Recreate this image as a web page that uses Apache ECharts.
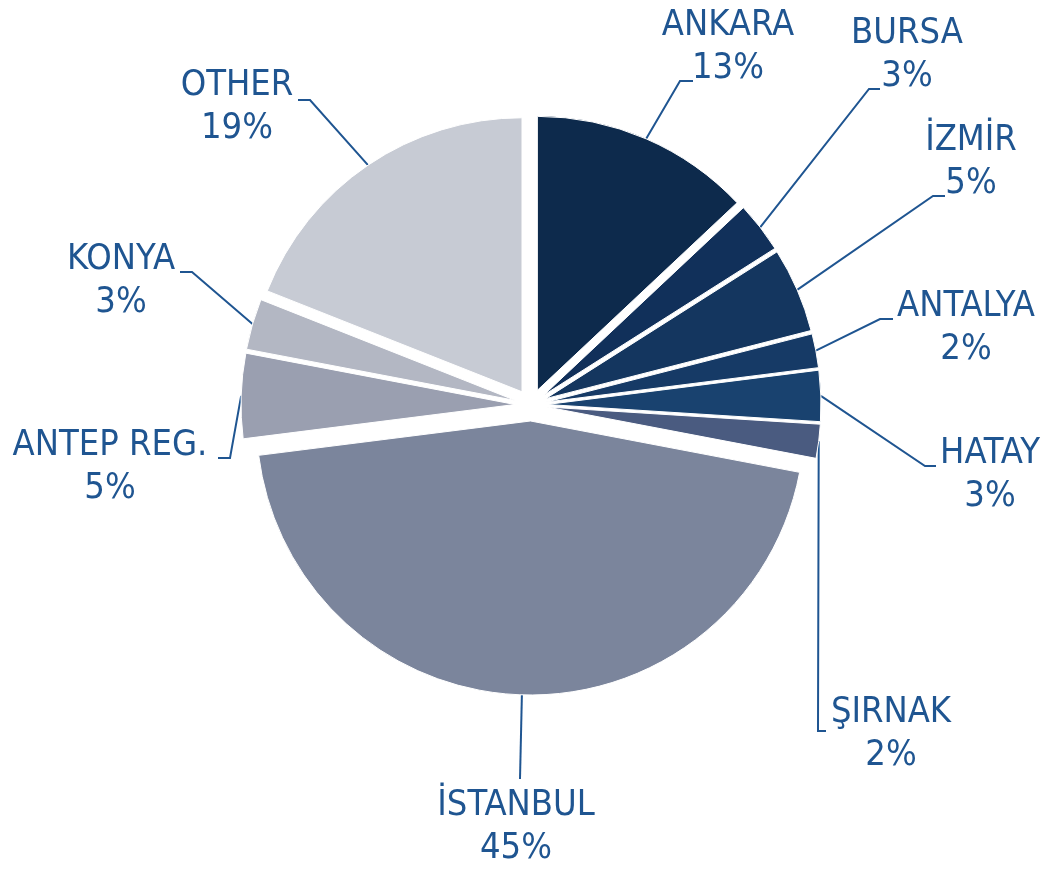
<!DOCTYPE html>
<html>
<head>
<meta charset="utf-8">
<script src="https://cdn.jsdelivr.net/npm/echarts@6/dist/echarts.min.js"></script>
<style>
  html, body { margin: 0; padding: 0; background: #fff; }
  #chart { width: 1042px; height: 869px; }
</style>
</head>
<body>
<div id="chart"></div>
<script>
const cities = ['ANKARA', 'BURSA', 'İZMİR', 'ANTALYA', 'HATAY', 'ŞIRNAK', 'İSTANBUL', 'ANTEP REG.', 'KONYA', 'OTHER'];
const shares = [13, 3, 5, 2, 3, 2, 45, 5, 3, 19];
const sliceColors = ['#0d2a4c', '#11305a', '#14365f', '#163a66', '#19426f', '#4a5b80', '#7b859c', '#9a9fb0', '#b3b7c3', '#c7cbd4'];

const pieCenter = [531, 405];
const pieRadius = 274;
const explode = 16;
const textColor = '#1f5591';

// where each label sits (block centre) and where its leader line ends
const labelSpots = [
  { tx: 728, ty: 47, ex: 693, ey: 81, elbow: 13 },
  { tx: 907, ty: 55, ex: 880, ey: 89, elbow: 11 },
  { tx: 971, ty: 162, ex: 945, ey: 196, elbow: 12 },
  { tx: 966, ty: 328, ex: 893, ey: 319, elbow: 13 },
  { tx: 990, ty: 475, ex: 936, ey: 466, elbow: 11 },
  { tx: 891, ty: 734, ex: 826, ey: 731, elbow: 8 },
  { tx: 516, ty: 827, ex: 520, ey: 779, elbow: 0 },
  { tx: 110, ty: 467, ex: 218, ey: 458, elbow: -12 },
  { tx: 121, ty: 281, ex: 180, ey: 272, elbow: -12 },
  { tx: 237, ty: 107, ex: 298, ey: 100, elbow: -12 }
];

const chart = echarts.init(document.getElementById('chart'));

const common = {
  type: 'pie',
  center: pieCenter,
  radius: pieRadius,
  startAngle: 90,
  clockwise: true,
  avoidLabelOverlap: false,
  emphasis: { disabled: true }
};

chart.setOption({
  animation: false,
  series: [
    // exploded slices
    Object.assign({}, common, {
      selectedMode: 'multiple',
      selectedOffset: explode,
      itemStyle: { borderColor: '#fff', borderWidth: 1 },
      label: { show: false },
      labelLine: { show: false },
      data: cities.map((name, i) => ({
        name: name,
        value: shares[i],
        selected: true,
        itemStyle: { color: sliceColors[i] }
      }))
    }),
    // invisible twin that carries the labels and leader lines
    Object.assign({}, common, {
      silent: true,
      itemStyle: { color: 'rgba(0,0,0,0)', borderWidth: 0 },
      label: {
        show: true,
        position: 'outside',
        formatter: '{b}\n{c}%',
        color: textColor,
        fontFamily: 'DejaVu Sans Condensed',
        fontSize: 36,
        lineHeight: 43,
        align: 'center'
      },
      labelLine: {
        show: true,
        length: 20,
        length2: 10,
        lineStyle: { color: textColor, width: 2 }
      },
      labelLayout: function (p) {
        const s = labelSpots[p.dataIndex];
        let start = [s.ex, s.ey];
        if (p.labelLinePoints) {
          const p0 = p.labelLinePoints[0];
          const vx = p0[0] - pieCenter[0];
          const vy = p0[1] - pieCenter[1];
          const len = Math.sqrt(vx * vx + vy * vy) || 1;
          start = [p0[0] + explode * vx / len, p0[1] + explode * vy / len];
        }
        return {
          x: s.tx,
          y: s.ty,
          align: 'center',
          verticalAlign: 'middle',
          labelLinePoints: [start, [s.ex - s.elbow, s.ey], [s.ex, s.ey]]
        };
      },
      data: cities.map((name, i) => ({ name: name, value: shares[i] }))
    })
  ]
});
</script>
</body>
</html>
